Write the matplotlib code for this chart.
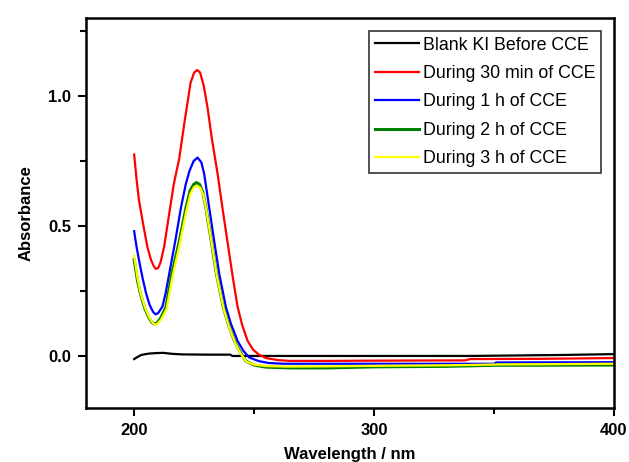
import matplotlib
matplotlib.use("Agg")
import matplotlib.pyplot as plt
from matplotlib.ticker import MultipleLocator

plt.rcParams["font.family"] = ["Liberation Sans", "DejaVu Sans"]

# Espectros UV-Vis (longitud de onda en nm, absorbancia)
wl_blank = [200, 201, 203, 206, 209, 212, 216, 220, 230, 240, 241, 260, 300, 340, 360, 380, 400]
abs_blank = [-0.012, -0.006, 0.004, 0.009, 0.011, 0.012, 0.008, 0.006, 0.005, 0.005, 0.0,
             0.0, 0.0, 0.0, 0.002, 0.004, 0.007]

wl_30min = [200, 201, 202, 203.5, 205.5, 207, 208.2, 209, 210, 211, 212.5, 214.5, 216.5,
            218.8, 221, 223.5, 225, 226.3, 227.5, 229, 230.6, 232.5, 234.8, 236.8, 238.9,
            241, 243.1, 245, 247.3, 249.5, 252, 255, 260, 265, 280, 300, 338, 340, 370, 400]
abs_30min = [0.775, 0.68, 0.60, 0.52, 0.42, 0.37, 0.345, 0.335, 0.338, 0.36, 0.42, 0.54, 0.66,
             0.76, 0.90, 1.05, 1.09, 1.10, 1.09, 1.04, 0.955, 0.83, 0.70, 0.57, 0.44,
             0.31, 0.19, 0.12, 0.058, 0.025, 0.005, -0.008, -0.016, -0.019, -0.019, -0.018,
             -0.017, -0.012, -0.011, -0.008]

wl_1h = [200, 201, 202, 203.5, 205, 206.5, 208, 209, 210, 211.8, 213.2, 214.6, 217.1, 219.5,
         221.5, 223, 224.8, 226.4, 228, 229.2, 231.3, 233.4, 235.5, 238.3, 240.3, 243.1, 245.5,
         248, 252, 256, 262, 300, 350, 351, 400]
abs_1h = [0.48, 0.42, 0.37, 0.30, 0.24, 0.195, 0.168, 0.16, 0.165, 0.19, 0.245, 0.315, 0.44, 0.57,
          0.66, 0.71, 0.75, 0.763, 0.745, 0.70, 0.57, 0.44, 0.315, 0.186, 0.125, 0.058, 0.02,
          -0.006, -0.02, -0.027, -0.03, -0.03, -0.03, -0.025, -0.024]

wl_2h = [200, 201.4, 202.5, 203.5, 204.6, 206, 207.3, 208.4, 209.5, 211, 213.2, 215.7, 218.8,
         221.6, 223.3, 224.8, 226, 227.3, 228.6, 229.9, 232.2, 234.3, 237.2, 239.5, 241.8,
         244, 246.6, 250, 255, 265, 280, 300, 330, 350, 400]
abs_2h = [0.37, 0.29, 0.245, 0.21, 0.18, 0.15, 0.13, 0.123, 0.127, 0.145, 0.186, 0.315, 0.44,
          0.57, 0.635, 0.66, 0.667, 0.66, 0.63, 0.57, 0.44, 0.315, 0.186, 0.115, 0.058,
          0.018, -0.02, -0.035, -0.043, -0.046, -0.046, -0.042, -0.04, -0.036, -0.035]

wl_3h = [200, 201.4, 202.5, 203.5, 204.8, 206.2, 207.5, 208.6, 209.7, 211.2, 213.5, 216, 219,
         221.8, 223.5, 225, 226.2, 227.5, 228.8, 230.1, 232.4, 234.5, 237.4, 239.7, 242,
         244.2, 246.8, 250, 255, 265, 280, 300, 330, 350, 400]
abs_3h = [0.385, 0.30, 0.25, 0.215, 0.18, 0.15, 0.13, 0.12, 0.124, 0.14, 0.18, 0.305, 0.43,
          0.56, 0.625, 0.65, 0.655, 0.648, 0.62, 0.56, 0.43, 0.305, 0.178, 0.108, 0.052,
          0.012, -0.022, -0.033, -0.039, -0.041, -0.04, -0.038, -0.036, -0.033, -0.03]

series = [
    (wl_blank, abs_blank, "black", 1.6, "Blank KI Before CCE"),
    (wl_30min, abs_30min, "#ff0000", 1.6, "During 30 min of CCE"),
    (wl_1h, abs_1h, "#0000ff", 1.6, "During 1 h of CCE"),
    (wl_2h, abs_2h, "#008000", 2.2, "During 2 h of CCE"),
    (wl_3h, abs_3h, "#ffff00", 1.6, "During 3 h of CCE"),
]

fig = plt.figure(figsize=(6.29, 4.62), dpi=100)
ax = fig.add_axes([0.137, 0.117, 0.839, 0.844])

for x, y, color, lw, label in series:
    ax.plot(x, y, color=color, lw=lw, label=label)

ax.set_xlim(180, 400)
ax.set_ylim(-0.2, 1.3)
ax.xaxis.set_major_locator(MultipleLocator(100))
ax.xaxis.set_minor_locator(MultipleLocator(50))
ax.yaxis.set_major_locator(MultipleLocator(0.5))
ax.yaxis.set_minor_locator(MultipleLocator(0.25))
ax.tick_params(which="both", direction="out", width=1.5, top=False, right=False)
ax.tick_params(which="major", length=6, labelsize=12, pad=5)
ax.tick_params(which="minor", length=4)
for lab in ax.get_xticklabels() + ax.get_yticklabels():
    lab.set_fontweight("bold")
for s in ax.spines.values():
    s.set_linewidth(1.8)

ax.set_xlabel("Wavelength / nm", fontsize=12, fontweight="bold", labelpad=6)
ax.set_ylabel("Absorbance", fontsize=12, fontweight="bold", labelpad=10)

leg = ax.legend(loc="upper right", fontsize=12.8, frameon=True, fancybox=False,
                edgecolor="black", handlelength=2.5, handletextpad=0.2,
                borderpad=0.3, labelspacing=0.64, borderaxespad=0.75)
leg.get_frame().set_linewidth(1.2)

fig.savefig("out.png", dpi=100)
